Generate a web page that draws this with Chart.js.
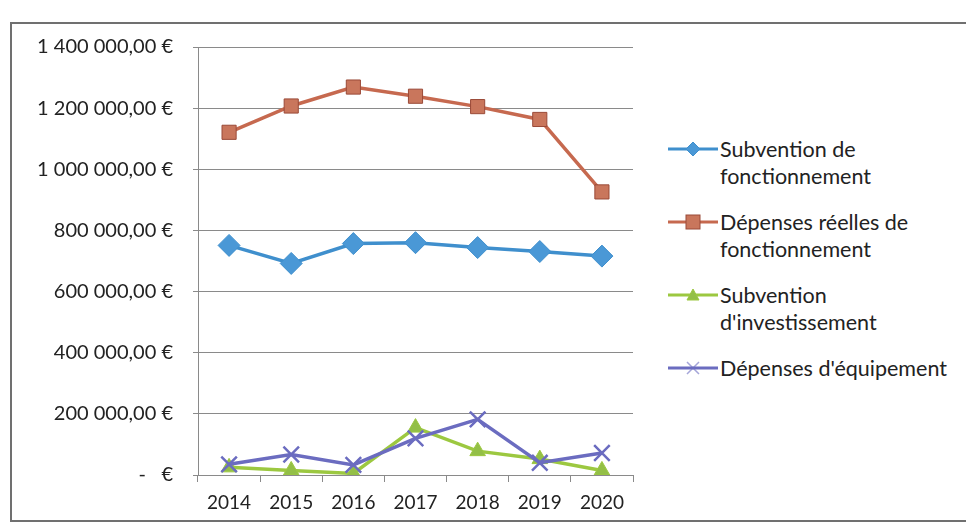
<!DOCTYPE html>
<html>
<head>
<meta charset="utf-8">
<script src="https://cdn.jsdelivr.net/npm/chart.js@4.4.0/dist/chart.umd.min.js"></script>
<style>
  html, body { margin: 0; padding: 0; background: #fff; width: 966px; height: 529px; overflow: hidden; }
  body { font-family: Lato, "Open Sans", sans-serif; color: #222; }
  #frame { position: absolute; left: 10px; top: 22px; width: 990px; height: 496px; border: 2px solid #707070; }
  #wrap { position: absolute; left: 0; top: 0; width: 650px; height: 529px; }
  #legend { position: absolute; left: 668px; top: 136px; width: 300px; }
  .lg-item { display: flex; align-items: flex-start; margin-bottom: 19px; }
  .lg-item svg { flex-shrink: 0; margin-top: 4px; }
  .lg-text { font-size: 21.5px; line-height: 27px; color: #222; margin-left: 2px; white-space: nowrap; }
</style>
</head>
<body>
<div id="frame"></div>
<div id="wrap"><canvas id="chart" width="650" height="529"></canvas></div>
<div id="legend"></div>
<script>
// ── Data ─────────────────────────────────────────────────────────────────────
const years = ['2014', '2015', '2016', '2017', '2018', '2019', '2020'];
const subventionFonct  = [751000, 692000, 757000, 760000, 744000, 731000, 716000];
const depensesReelles  = [1121000, 1207000, 1269000, 1239000, 1205000, 1163000, 926000];
const subventionInvest = [25000, 15000, 5000, 155000, 78000, 52000, 15000];
const depensesEquip    = [35000, 67000, 33000, 120000, 182000, 40000, 72000];
const seriesNames = [
  ['Subvention de', 'fonctionnement'],
  ['Dépenses réelles de', 'fonctionnement'],
  ['Subvention', "d'investissement"],
  ["Dépenses d'équipement"]
];

// ── Formatting ───────────────────────────────────────────────────────────────
function fmtEuro(v) {
  if (v === 0) return '-\u00a0\u00a0\u00a0€';
  const [i, d] = v.toFixed(2).split('.');
  return i.replace(/\B(?=(\d{3})+(?!\d))/g, ' ') + ',' + d + '\u00a0€';
}

const styles = [
  {color: '#3f8fcd', fill: '#4a98d6', point: 'rectRot', r: 11},
  {color: '#c6694f', fill: '#c9765c', point: 'rect', r: 10, border: '#9a4a38'},
  {color: '#9cc840', fill: '#93bf47', point: 'triangle', r: 9},
  {color: '#6b6cc0', fill: '#6b6cc0', point: 'crossRot', r: 11}
];
const values = [subventionFonct, depensesReelles, subventionInvest, depensesEquip];

const datasets = values.map((data, k) => ({
  label: seriesNames[k].join(' '),
  data,
  borderColor: styles[k].color,
  backgroundColor: styles[k].fill,
  pointBackgroundColor: styles[k].fill,
  pointBorderColor: styles[k].border || styles[k].color,
  pointBorderWidth: styles[k].point === 'crossRot' ? 2.5 : 1,
  borderWidth: 3.5,
  pointStyle: styles[k].point,
  pointRadius: styles[k].r,
  tension: 0
}));

// ── Chart ────────────────────────────────────────────────────────────────────
new Chart(document.getElementById('chart'), {
  type: 'line',
  data: { labels: years, datasets: datasets.slice().reverse() },
  options: {
    responsive: false,
    animation: false,
    layout: { padding: { top: 47, right: 17, left: 0, bottom: 0 } },
    plugins: { legend: { display: false }, tooltip: { enabled: false } },
    scales: {
      x: {
        offset: true,
        grid: { offset: true, drawOnChartArea: false, color: '#8a8a8a', tickLength: 7 },
        border: { color: '#8a8a8a', width: 1 },
        ticks: { color: '#222', font: { family: 'Lato', size: 19 }, padding: 9 },
        afterFit: s => { s.height = 54; }
      },
      y: {
        min: 0, max: 1400000,
        ticks: { stepSize: 200000, color: '#222', font: { family: 'Lato', size: 20 }, padding: 20, callback: fmtEuro },
        grid: { color: '#8a8a8a', tickLength: 5 },
        border: { color: '#8a8a8a', width: 1 },
        afterFit: s => { s.width = 198; }
      }
    }
  }
});

// ── Legend ───────────────────────────────────────────────────────────────────
function markerSvg(st) {
  const c = st.color, f = st.fill;
  let m = '';
  if (st.point === 'rectRot') m = `<polygon points="25,2 32,9 25,16 18,9" fill="${f}" stroke="${c}"/>`;
  if (st.point === 'rect') m = `<rect x="18" y="2" width="14" height="14" fill="${f}" stroke="${st.border}"/>`;
  if (st.point === 'triangle') m = `<polygon points="25,3 31,14 19,14" fill="${f}" stroke="${c}"/>`;
  if (st.point === 'crossRot') m = `<path d="M19,3 L31,15 M31,3 L19,15" stroke="${c}" stroke-width="1.5" opacity="0.6"/>`;
  return `<svg width="50" height="18"><line x1="0" y1="9" x2="50" y2="9" stroke="${c}" stroke-width="3"/>${m}</svg>`;
}
document.getElementById('legend').innerHTML = seriesNames.map((lines, k) =>
  `<div class="lg-item">${markerSvg(styles[k])}<div class="lg-text">${lines.join('<br>')}</div></div>`
).join('');
</script>
</body>
</html>
